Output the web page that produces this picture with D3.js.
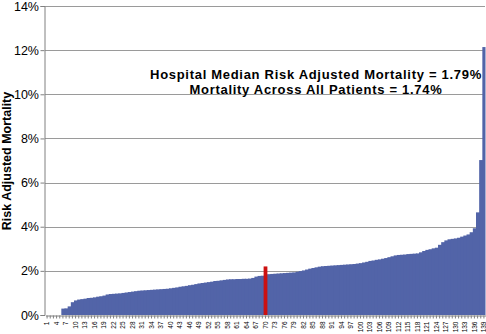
<!DOCTYPE html>
<html><head><meta charset="utf-8">
<script src="https://cdn.jsdelivr.net/npm/d3@7"></script>
<style>body{margin:0;background:#fff}svg{display:block}</style>
</head><body>
<script>
const hospitals = d3.range(1, 140);
const mortality = [
0,0,0,0,0,0.29,0.30,0.39,0.58,0.66,
0.70,0.72,0.74,0.77,0.78,0.80,0.83,0.85,0.88,0.93,
0.95,0.96,0.97,0.98,1.00,1.02,1.04,1.06,1.08,1.10,
1.11,1.12,1.13,1.14,1.15,1.16,1.17,1.18,1.19,1.21,
1.23,1.25,1.28,1.30,1.32,1.35,1.37,1.40,1.43,1.45,
1.47,1.49,1.51,1.54,1.55,1.57,1.59,1.61,1.62,1.62,
1.63,1.63,1.64,1.64,1.65,1.68,1.74,1.77,1.78,1.79,
1.85,1.86,1.87,1.88,1.89,1.90,1.91,1.92,1.93,1.96,
1.99,2.02,2.06,2.10,2.13,2.16,2.19,2.21,2.22,2.23,
2.24,2.25,2.26,2.27,2.28,2.29,2.30,2.31,2.33,2.35,
2.38,2.41,2.45,2.47,2.50,2.52,2.55,2.58,2.62,2.66,
2.70,2.72,2.73,2.74,2.76,2.77,2.78,2.79,2.84,2.90,
2.95,2.98,3.02,3.05,3.18,3.30,3.38,3.43,3.45,3.47,
3.50,3.55,3.60,3.65,3.75,3.93,4.65,7.02,12.14];
const medianHospital = 70;
const medianMarker = 2.2;
const yTicks = [0,2,4,6,8,10,12,14];
const annotations = ["Hospital Median Risk Adjusted Mortality = 1.79%", "Mortality Across All Patients = 1.74%"];
const yTitle = "Risk Adjusted Mortality";

const W = 486, H = 334;
const svg = d3.select("body").append("svg").attr("width", W).attr("height", H);
const x = d3.scaleBand().domain(hospitals).range([45.5, 485.5]).padding(0);
const y = d3.scaleLinear().domain([0, 14]).range([315, 6]);

// gridlines
svg.append("g").selectAll("line").data(yTicks.filter(d => d > 0)).join("line")
  .attr("x1", 45).attr("x2", 485).attr("y1", d => Math.round(y(d)) + 0.5).attr("y2", d => Math.round(y(d)) + 0.5)
  .attr("stroke", "#9a9a9a").attr("stroke-width", 1);

// bars (each slightly overlaps the next; later, taller bars cover the overlap)
svg.append("g").selectAll("rect").data(hospitals).join("rect")
  .attr("x", d => x(d)).attr("width", (d, i) => i === hospitals.length - 1 ? x.bandwidth() : x.bandwidth() + 1)
  .attr("y", (d, i) => y(mortality[i])).attr("height", (d, i) => y(0) - y(mortality[i]))
  .attr("fill", "#5264a8");

// median marker
svg.append("rect").attr("x", x(medianHospital) - 0.3).attr("width", x.bandwidth() + 0.6)
  .attr("y", y(medianMarker)).attr("height", y(0) - y(medianMarker)).attr("fill", "#cc1111");

// y axis
const yAxis = svg.append("g").attr("transform", "translate(44.5,0)")
  .call(d3.axisLeft(y).tickValues(yTicks).tickFormat(d => d + "%").tickSize(4).tickPadding(1.5));
yAxis.select(".domain").attr("stroke", "#808080");
yAxis.selectAll(".tick line").attr("stroke", "#808080");
yAxis.selectAll(".tick text").attr("font-family", "Liberation Sans, Arial, sans-serif")
  .attr("font-size", 12.5).attr("fill", "#000");

// x axis
const xAxis = svg.append("g").attr("transform", "translate(0,315.5)")
  .call(d3.axisBottom(x).tickSize(3).tickPadding(2).tickSizeOuter(0)
    .tickFormat(d => ((d - 1) % 3 === 0) ? d : ""));
xAxis.select(".domain").attr("stroke", "#808080");
xAxis.selectAll(".tick line").attr("stroke", "#808080");
xAxis.selectAll(".tick text").attr("font-family", "Liberation Sans, Arial, sans-serif")
  .attr("font-size", 6.5).attr("fill", "#000")
  .attr("transform", "rotate(-90)").attr("text-anchor", "end")
  .attr("dy", "0.35em").attr("x", -6).attr("y", 0);

// y title
svg.append("text").attr("transform", "translate(11,161) rotate(-90)")
  .attr("text-anchor", "middle").attr("font-family", "Liberation Sans, Arial, sans-serif")
  .attr("font-weight", "bold").attr("font-size", 12.5).text(yTitle);

// annotations
svg.append("g").selectAll("text").data(annotations).join("text")
  .attr("x", 316).attr("y", (d, i) => 79 + i * 14.5)
  .attr("text-anchor", "middle").attr("font-family", "Liberation Sans, Arial, sans-serif")
  .attr("font-weight", "bold").attr("font-size", 13).attr("letter-spacing", 0.7).text(d => d);
</script>
</body></html>
